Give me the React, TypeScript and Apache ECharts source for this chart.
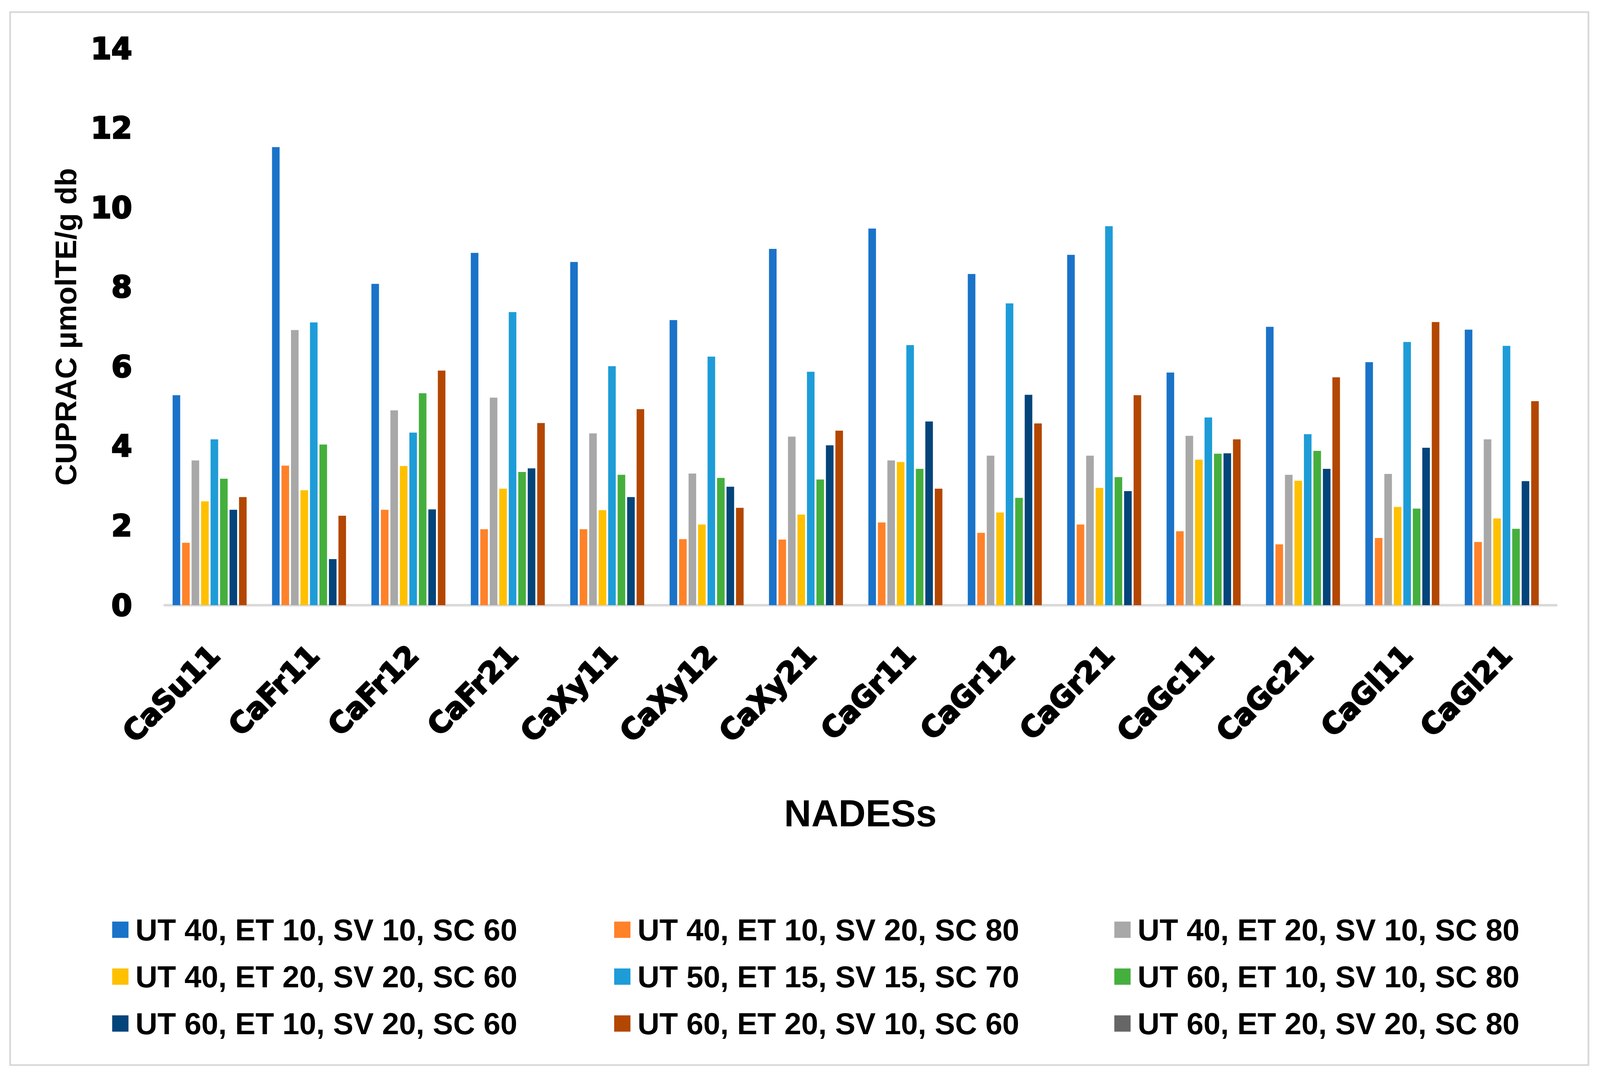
import React, { useEffect, useRef } from "react";
import * as echarts from "echarts";

const categories = [
  "CaSu11", "CaFr11", "CaFr12", "CaFr21", "CaXy11", "CaXy12", "CaXy21",
  "CaGr11", "CaGr12", "CaGr21", "CaGc11", "CaGc21", "CaGl11", "CaGl21",
];

const seriesNames = [
  "UT 40, ET 10, SV 10, SC 60",
  "UT 40, ET 10, SV 20, SC 80",
  "UT 40, ET 20, SV 10, SC 80",
  "UT 40, ET 20, SV 20, SC 60",
  "UT 50, ET 15, SV 15, SC 70",
  "UT 60, ET 10, SV 10, SC 80",
  "UT 60, ET 10, SV 20, SC 60",
  "UT 60, ET 20, SV 10, SC 60",
  "UT 60, ET 20, SV 20, SC 80",
];

const ut40et10sv10 = [5.28, 11.52, 8.08, 8.86, 8.63, 7.17, 8.96, 9.47, 8.33, 8.81, 5.85, 7.0, 6.11, 6.93];
const ut40et10sv20 = [1.57, 3.51, 2.4, 1.91, 1.91, 1.66, 1.65, 2.08, 1.82, 2.03, 1.86, 1.53, 1.69, 1.59];
const ut40et20sv10 = [3.64, 6.92, 4.9, 5.22, 4.32, 3.31, 4.24, 3.64, 3.76, 3.76, 4.26, 3.28, 3.3, 4.17];
const ut40et20sv20 = [2.61, 2.89, 3.5, 2.93, 2.39, 2.03, 2.28, 3.6, 2.33, 2.95, 3.66, 3.13, 2.47, 2.18];
const ut50et15sv15 = [4.17, 7.11, 4.34, 7.37, 6.01, 6.25, 5.87, 6.54, 7.59, 9.53, 4.72, 4.3, 6.62, 6.52];
const ut60et10sv10 = [3.18, 4.04, 5.33, 3.35, 3.28, 3.2, 3.16, 3.43, 2.7, 3.22, 3.81, 3.88, 2.43, 1.92];
const ut60et10sv20 = [2.4, 1.16, 2.41, 3.44, 2.72, 2.98, 4.02, 4.62, 5.29, 2.87, 3.82, 3.43, 3.96, 3.12];
const ut60et20sv10 = [2.72, 2.25, 5.9, 4.58, 4.93, 2.45, 4.39, 2.93, 4.57, 5.28, 4.17, 5.73, 7.12, 5.13];
const ut60et20sv20: (number | null)[] = [null, null, null, null, null, null, null, null, null, null, null, null, null, null];

const seriesValues = [
  ut40et10sv10, ut40et10sv20, ut40et20sv10, ut40et20sv20, ut50et15sv15,
  ut60et10sv10, ut60et10sv20, ut60et20sv10, ut60et20sv20,
];

const colors = [
  "#1A73C8", "#FF8229", "#A8A8A8", "#FFC000", "#1E9CD8",
  "#45AF3D", "#03447A", "#B34702", "#666666",
];

const yTicks = { min: 0, max: 14, interval: 2 };

const ARIAL = "'Liberation Sans', Arial, Helvetica, sans-serif";
const HEAVY = "'DejaVu Sans', 'Liberation Sans', Arial, sans-serif";

export default function App() {
  const ref = useRef<HTMLDivElement>(null);

  useEffect(() => {
    if (!ref.current) return;
    const W = ref.current.clientWidth || window.innerWidth;
    const H = ref.current.clientHeight || window.innerHeight;
    const sx = W / 4421;
    const sy = H / 2754;
    const f = Math.min(sx, sy);
    const X = (v: number) => v * sx;
    const Y = (v: number) => v * sy;
    const F = (v: number) => v * f;

    const chart = echarts.init(ref.current, undefined, { renderer: "svg" });

    const colX = [310, 1697, 3079];
    const rowY = [2338, 2458, 2578];

    const legends = seriesNames.map((name, i) => ({
      show: true,
      data: [name],
      left: X(colX[i % 3]),
      top: Y(rowY[Math.floor(i / 3)]),
      orient: "horizontal",
      padding: 0,
      icon: "rect",
      itemWidth: F(45),
      itemHeight: F(45),
      selectedMode: false,
      textStyle: {
        fontFamily: ARIAL,
        fontWeight: "bold",
        fontSize: F(84),
        color: "#000",
        lineHeight: F(90),
        padding: [0, 0, 0, F(14)],
      },
    }));

    const option: any = {
      animation: false,
      backgroundColor: "#ffffff",
      color: colors,
      graphic: [
        {
          type: "rect",
          silent: true,
          shape: { x: X(28), y: Y(31), width: X(4361), height: Y(2695) },
          style: { fill: "none", stroke: "#d9d9d9", lineWidth: F(5) },
        },
      ],
      legend: legends,
      grid: {
        left: X(455),
        right: X(121),
        top: Y(124),
        bottom: Y(1205),
        containLabel: false,
        outerBoundsMode: "none",
      },
      xAxis: {
        type: "category",
        data: categories,
        name: "NADESs",
        nameLocation: "middle",
        nameGap: Y(484),
        nameTextStyle: {
          fontFamily: ARIAL,
          fontWeight: "bold",
          fontSize: F(104),
          color: "#000",
        },
        axisLine: { show: true, lineStyle: { color: "#d9d9d9", width: F(7) } },
        axisTick: { show: false },
        axisLabel: {
          interval: 0,
          rotate: 45,
          margin: Y(115),
          fontFamily: HEAVY,
          fontWeight: "bold",
          fontSize: F(80),
          color: "#000",
          textBorderColor: "#000",
          textBorderWidth: F(4),
        },
        splitLine: { show: false },
      },
      yAxis: {
        type: "value",
        min: yTicks.min,
        max: yTicks.max,
        interval: yTicks.interval,
        name: "CUPRAC µmolTE/g db",
        nameLocation: "middle",
        nameGap: X(232),
        nameTextStyle: {
          fontFamily: ARIAL,
          fontWeight: "bold",
          fontSize: F(83),
          color: "#000",
        },
        axisLine: { show: false },
        axisTick: { show: false },
        splitLine: { show: false },
        axisLabel: {
          margin: X(90),
          fontFamily: HEAVY,
          fontWeight: "bold",
          fontSize: F(82),
          color: "#000",
          textBorderColor: "#000",
          textBorderWidth: F(4),
        },
      },
      series: seriesNames.map((name, i) => ({
        name,
        type: "bar",
        data: seriesValues[i],
        barGap: "25%",
        barCategoryGap: "16%",
        itemStyle: { color: colors[i] },
      })),
    };

    chart.setOption(option);
    return () => {
      chart.dispose();
    };
  }, []);

  return (
    <div
      ref={ref}
      style={{
        position: "fixed",
        left: 0,
        top: 0,
        width: "100vw",
        height: "100vh",
        background: "#fff",
      }}
    />
  );
}
